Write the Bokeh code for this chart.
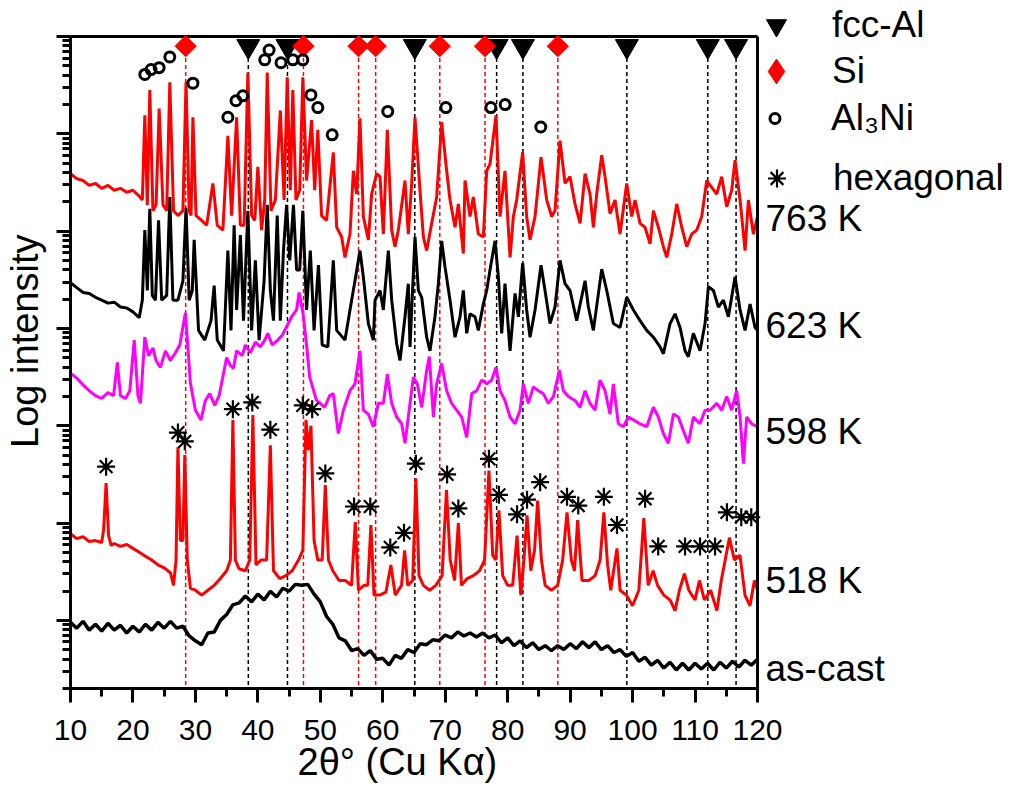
import math
from bokeh.plotting import figure
from bokeh.models import (Range1d, Legend, LegendItem, Label, SingleIntervalTicker,
                          CustomJSTickFormatter, Title)
from bokeh.embed import file_html
from bokeh.resources import INLINE

FONT = "Liberation Sans"

# ---------------- data (2theta in degrees, log10 intensity) ----------------
ascast_tt = list(range(10, 121))
ascast_li = [-0.02, -0.08, -0.01, -0.10, -0.04, -0.11, -0.03, -0.10, -0.05, -0.13,
             -0.06, -0.12, -0.04, -0.10, -0.02, -0.08, -0.01, -0.08, -0.06,
             -0.16, -0.21, -0.25, -0.13, -0.12, 0.00, 0.06, 0.16, 0.18, 0.25, 0.19,
             0.27, 0.21, 0.30, 0.24, 0.33, 0.30, 0.37, 0.36, 0.37, 0.27, 0.19, 0.04,
             -0.04, -0.18, -0.21, -0.31, -0.29, -0.36, -0.31, -0.40, -0.39, -0.46,
             -0.36, -0.39, -0.30, -0.33, -0.24, -0.25, -0.20, -0.21, -0.15, -0.18,
             -0.12, -0.16, -0.13, -0.17, -0.13, -0.18, -0.15, -0.23, -0.18, -0.26,
             -0.21, -0.28, -0.23, -0.30, -0.26, -0.31, -0.26, -0.30, -0.24, -0.29,
             -0.22, -0.28, -0.22, -0.30, -0.26, -0.33, -0.30, -0.37, -0.33, -0.42,
             -0.38, -0.46, -0.41, -0.49, -0.43, -0.51, -0.44, -0.51, -0.44, -0.50,
             -0.44, -0.51, -0.43, -0.49, -0.42, -0.48, -0.41, -0.46, -0.40]

k518_tt = [10, 11, 12, 13, 14, 15, 15.3, 15.7, 16.1, 16.5, 17, 18, 19, 20, 21, 22, 23, 24, 25, 26,
           26.5, 26.9, 27.2, 27.6, 28.0, 28.3, 28.7, 29.2, 30, 31, 32, 33, 34, 35, 35.6, 36.0, 36.4,
           37, 38, 38.7, 39.2, 39.7, 40.5, 41.4, 42.0, 42.5, 43.5, 44.5, 45.5, 46.5, 47.2, 47.7,
           48.1, 48.5, 49, 49.6, 50.3, 50.8, 51.3, 52, 53, 54, 55, 55.6, 56.1, 57, 57.6, 58.1, 58.6,
           59.5, 60.5, 61.3, 62, 63, 63.5, 64, 64.8, 65.3, 65.8, 66.5, 67.5, 68.5, 69.5, 70.2, 70.8,
           71.5, 72.1, 72.6, 73.5, 74.5, 75.5, 76.3, 77.0, 77.6, 78.1, 78.6, 79.2, 80, 80.8, 81.5,
           82.1, 82.6, 83.1, 83.7, 84.3, 84.8, 85.4, 86, 87, 88, 88.8, 89.5, 90.2, 90.7, 91.2, 91.9,
           93, 94, 94.8, 95.4, 96, 96.5, 97.5, 98, 99, 100, 101, 101.8, 102.5, 103.3, 104, 105, 106,
           106.8, 107.5, 108.3, 109, 110, 110.7, 111.5, 112.5, 113.5, 114.2, 115.5, 116.3, 117.2,
           118, 118.8, 119.5, 120]
k518_li = [0.89, 0.84, 0.86, 0.81, 0.82, 0.80, 0.93, 1.41, 0.87, 0.77, 0.79, 0.76, 0.78, 0.74, 0.70,
           0.66, 0.62, 0.57, 0.54, 0.49, 0.36, 0.62, 1.78, 0.82, 0.82, 1.70, 0.62, 0.33, 0.31, 0.26,
           0.31, 0.36, 0.43, 0.51, 0.62, 2.06, 0.62, 0.53, 0.51, 0.62, 2.11, 0.57, 0.62, 0.62, 1.80,
           0.51, 0.43, 0.46, 0.51, 0.62, 0.72, 2.06, 1.75, 2.00, 0.82, 0.62, 0.62, 1.39, 0.62, 0.51,
           0.41, 0.41, 0.36, 1.01, 0.31, 0.36, 0.36, 0.98, 0.26, 0.26, 0.29, 0.57, 0.26, 0.36, 0.72,
           0.36, 0.41, 1.46, 0.46, 0.36, 0.31, 0.36, 0.46, 1.34, 0.62, 0.41, 1.00, 0.36, 0.43, 0.46,
           0.51, 0.62, 1.54, 0.67, 0.62, 1.13, 0.46, 0.36, 0.36, 0.87, 0.26, 0.62, 1.08, 0.51, 0.72,
           1.23, 0.62, 0.36, 0.31, 0.36, 0.62, 1.11, 0.62, 0.51, 1.03, 0.41, 0.41, 0.46, 0.62, 1.11,
           0.57, 0.31, 0.74, 0.31, 0.26, 0.15, 0.31, 1.05, 0.36, 0.51, 0.36, 0.26, 0.21, 0.10, 0.31,
           0.48, 0.31, 0.21, 0.41, 0.21, 0.31, 0.10, 0.41, 0.85, 0.62, 0.67, 0.26, 0.15, 0.41, 0.31]

k598_tt = [10, 11, 12, 13, 14, 15, 16, 16.9, 17.5, 18.0, 18.8, 19.5, 20.2, 20.8, 21.2, 21.9, 22.5,
           23.2, 23.7, 24.4, 25.2, 26.0, 26.8, 27.5, 28.4, 29.2, 30.0, 30.9, 31.6, 32.3, 33.1, 33.8,
           34.6, 35.0, 35.6, 36.1, 36.6, 37.5, 38.0, 38.8, 39.6, 40.4, 41.1, 41.6, 42.3, 43.2, 43.9,
           44.7, 45.5, 46.2, 46.6, 47.2, 47.8, 48.3, 49.4, 50.7, 51.5,
           52.08, 52.88, 53.69, 54.75, 55.55, 56.35, 56.89, 57.69, 58.49, 59.29,
           60.09, 60.73, 61.43, 62.23, 63.03, 63.56, 64.09, 64.90, 65.54, 66.23,
           67.03, 67.46, 68.10, 68.63, 69.43, 70.23, 71.03, 71.83, 72.64, 73.44,
           74.24, 75.04, 75.84, 76.64, 77.44, 78.13, 78.77, 79.57, 80.38, 81.18,
           81.98, 82.51, 83.31, 84.11, 84.91, 85.71, 86.51, 87.32, 88.28, 88.92,
           89.72, 90.78, 91.59, 92.39, 93.19, 93.99, 94.79, 95.59, 96.39, 96.92,
           97.72, 98.52, 99.33, 100.13, 101.19, 102.26, 103.33, 104.13, 104.93, 105.73,
           106.53, 107.33, 108.13, 108.93, 109.73, 110.80, 111.60, 112.40, 113.47, 114.27,
           115.07, 115.87, 116.67, 117.21, 117.74, 118.27, 119.07, 120.0]
k598_li = [2.54, 2.49, 2.42, 2.36, 2.31, 2.28, 2.34, 2.31, 2.65, 2.31, 2.28, 2.36, 2.88, 2.31, 2.23,
           2.91, 2.72, 2.80, 2.67, 2.60, 2.77, 2.67, 2.75, 2.83, 3.16, 2.44, 2.16, 2.06, 2.26, 2.33,
           2.21, 2.31, 2.57, 2.70, 2.62, 2.59, 2.77, 2.72, 2.83, 2.75, 2.86, 2.81, 2.88, 2.95, 2.83,
           2.88, 2.93, 3.03, 3.13, 3.19, 3.37, 3.17, 2.83, 2.50, 2.26, 2.19, 2.31,
           2.33, 1.92, 2.16, 2.36, 2.43, 2.77, 2.16, 2.12, 1.99, 2.23,
           2.23, 2.53, 2.23, 2.09, 2.02, 1.82, 2.09, 2.50, 2.43, 2.19,
           2.57, 2.71, 2.09, 2.43, 2.64, 2.36, 2.23, 2.16, 2.09, 1.88,
           2.33, 2.36, 2.47, 2.43, 2.47, 2.60, 2.36, 2.26, 2.09, 2.02,
           2.16, 2.43, 2.23, 2.40, 2.36, 2.33, 2.23, 2.30, 2.57, 2.36,
           2.30, 2.26, 2.19, 2.36, 2.23, 2.16, 2.47, 2.36, 2.12, 2.43,
           2.02, 1.99, 2.09, 2.06, 2.02, 1.99, 2.19, 2.09, 1.92, 1.82,
           2.12, 2.09, 1.95, 1.82, 2.09, 2.02, 2.16, 2.16, 2.23, 2.16,
           2.30, 2.16, 2.36, 2.09, 1.61, 2.09, 2.02, 1.99]

k623_tt = [10, 11, 12, 13, 14, 15, 16, 17, 18, 19, 20, 21, 21.5, 21.9, 22.3, 22.7, 23.1, 23.6, 24.1,
           24.6, 25.4, 25.9, 26.4, 27.2, 28.0, 28.5, 29.0, 29.5, 29.8, 30.5, 31.5, 32.5, 33.0, 33.5,
           34.5, 35.2, 35.7, 36.2, 36.6, 37.2, 37.7, 38.4, 39.0, 39.6, 40.2, 41.0, 41.5, 42.0, 42.5,
           43.1, 43.6, 44.1, 44.6, 45.1, 45.7, 46.2, 46.7, 47.2, 47.8, 48.4, 49.0, 49.7, 50.3, 51.2,
           52.08, 52.62, 53.95, 54.75, 55.55, 56.35, 56.89, 57.69, 58.49, 58.76,
           59.56, 60.09, 60.89, 61.43, 62.23, 62.76, 63.56, 64.09, 64.36, 65.16,
           65.70, 66.23, 67.03, 67.56, 68.36, 68.90, 69.43, 69.97, 70.77, 71.57,
           72.37, 72.90, 73.44, 73.97, 74.77, 75.30, 76.10, 76.64, 77.17, 77.97,
           78.51, 79.04, 79.57, 80.38, 81.18, 81.71, 82.40, 83.04, 83.58, 84.38,
           85.34, 85.98, 86.78, 87.58, 88.38, 89.18, 89.98, 91.05, 92.39, 92.92,
           93.72, 95.06, 95.86, 96.92, 97.99, 99.06, 100.13, 101.19, 102.26, 103.33,
           104.40, 104.93, 106.00, 106.80, 107.60, 108.40, 108.93, 109.73, 110.80, 111.60,
           112.14, 112.94, 113.74, 114.54, 115.34, 116.41, 117.21, 118.01, 118.81, 119.61,
           120.0]
k623_li = [3.47, 3.42, 3.37, 3.36, 3.32, 3.29, 3.26, 3.27, 3.22, 3.21, 3.17, 3.11,
           3.29, 4.01, 3.39, 4.23, 3.34, 3.29, 4.11, 3.29, 3.34, 4.35,
           3.29, 3.29, 3.49, 4.24, 3.29, 3.39, 3.91, 2.98, 2.88, 3.08,
           3.44, 2.88, 2.77, 3.80, 2.98, 4.06, 3.19, 3.96, 3.08, 4.21,
           2.98, 3.70, 2.88, 3.49, 4.27, 3.39, 3.08, 4.16, 3.08, 3.80,
           4.27, 3.70, 4.27, 3.60, 3.60, 4.21, 3.19, 3.80, 2.98, 3.65,
           2.83, 2.81,
           3.70, 2.98, 2.88, 3.19, 3.49, 3.80, 3.53, 3.05, 2.88, 3.29,
           3.39, 3.19, 3.80, 3.29, 2.84, 2.67, 3.12, 3.46, 2.81, 3.94,
           3.39, 3.32, 2.91, 2.77, 3.12, 3.46, 3.90, 3.63, 3.29, 2.91,
           3.12, 3.39, 2.95, 3.15, 3.12, 2.98, 3.25, 3.39, 3.60, 3.90,
           3.53, 2.95, 3.46, 2.77, 3.36, 3.12, 3.67, 3.19, 2.91, 3.19,
           3.65, 3.39, 3.05, 3.22, 3.70, 3.46, 3.39, 3.08, 3.49, 3.22,
           2.98, 3.61, 3.39, 3.05, 3.01, 3.32, 3.19, 3.08, 2.98, 2.91,
           2.81, 2.74, 3.05, 3.15, 3.01, 2.77, 2.71, 2.95, 2.77, 3.05,
           3.43, 3.39, 3.22, 3.29, 3.12, 3.53, 3.19, 2.98, 3.25, 3.01,
           2.98]

k763_tt = [10, 11, 12, 13, 14, 15, 16, 17, 18, 19, 20, 21, 21.5, 21.9, 22.3, 22.7, 23.2, 23.7, 24.2,
           24.8, 25.4, 25.9, 26.5, 27.2, 28.0, 28.5, 29.0, 29.3, 29.6, 30.1, 31, 31.8, 32.8, 33.5,
           34.4, 35.2, 35.8, 36.6, 37.2, 37.8, 38.4, 39.0, 39.5, 40.0, 40.6, 41.1, 41.5, 42.1, 42.8,
           43.6, 44.2, 44.7, 45.2, 45.6, 46.1, 46.7, 47.2, 47.8, 48.6, 49.1, 49.6, 50.2, 51.0,
           52.08, 52.62, 53.42, 53.95, 54.75, 55.29, 55.82, 56.35, 56.89, 57.69,
           58.22, 59.02, 59.56, 60.09, 60.73, 61.43, 61.96, 62.49, 63.56, 64.09,
           64.63, 65.16, 65.96, 66.50, 67.03, 67.83, 68.63, 69.43, 70.23, 70.77,
           71.57, 72.10, 72.90, 73.17, 73.97, 74.50, 75.30, 76.10, 76.64, 77.17,
           78.13, 78.77, 79.57, 80.38, 80.91, 81.44, 82.40, 83.04, 83.58, 84.38,
           85.34, 86.25, 87.05, 87.58, 88.38, 89.18, 89.98, 90.78, 91.59, 92.39,
           93.19, 93.72, 94.25, 95.06, 95.59, 96.39, 97.19, 97.99, 99.06, 99.86,
           100.39, 101.19, 101.99, 102.80, 103.33, 104.13, 104.93, 105.47, 106.27, 107.07,
           107.87, 108.67, 109.47, 110.27, 111.07, 111.87, 112.67, 113.47, 114.27, 115.07,
           115.87, 116.41, 117.21, 118.01, 118.54, 119.34, 120.0]
k763_li = [4.59, 4.54, 4.52, 4.47, 4.49, 4.44, 4.47, 4.42, 4.44, 4.40, 4.42, 4.36,
           4.32, 5.19, 4.27, 5.45, 4.21, 4.27, 5.26, 4.27, 4.21, 5.53,
           4.21, 4.16, 4.21, 5.53, 4.21, 4.16, 5.17, 4.16, 4.11, 4.06,
           4.49, 4.06, 4.01, 4.98, 4.16, 5.17, 4.06, 4.06, 5.63, 4.16,
           4.11, 4.66, 4.01, 4.32, 5.63, 4.21, 4.32, 5.24, 4.32, 5.58,
           4.42, 5.45, 4.32, 4.42, 5.58, 4.52, 5.14, 4.42, 5.04, 4.16, 4.11,
           4.81, 4.04, 3.94, 3.73, 3.97, 4.62, 4.38, 5.16, 4.15, 3.91,
           4.38, 4.59, 4.56, 3.97, 5.04, 4.01, 3.84, 4.01, 4.52, 3.97,
           4.49, 5.17, 4.42, 3.94, 3.80, 4.08, 4.35, 5.12, 4.62, 4.32,
           4.04, 4.28, 3.77, 4.52, 4.15, 4.35, 3.97, 3.94, 4.62, 4.69,
           5.19, 4.15, 4.62, 3.73, 4.15, 4.32, 4.81, 4.15, 3.91, 4.15,
           4.76, 4.32, 4.15, 4.21, 4.93, 4.49, 4.56, 4.28, 4.08, 4.59,
           4.38, 4.04, 4.38, 4.78, 4.56, 4.18, 4.32, 3.97, 4.49, 4.15,
           4.32, 4.08, 4.04, 3.87, 4.21, 4.04, 3.84, 3.73, 3.97, 4.28,
           4.04, 3.84, 3.97, 4.01, 4.15, 4.52, 4.45, 4.38, 4.56, 4.25,
           4.42, 4.73, 4.32, 3.80, 4.32, 3.97, 4.15]

al_tt = [38.47, 44.74, 65.13, 78.23, 82.44, 99.08, 112.04, 116.57]
si_tt = [28.44, 47.30, 56.12, 58.86, 69.13, 76.38, 88.03]
marker_li = 5.9
line_top_li = 5.78

al3ni_tt = [21.9, 22.9, 24.2, 25.9, 29.6, 35.2, 36.5, 37.6, 41.1, 41.8, 43.7, 45.6, 47.2, 48.5,
            49.6, 51.9, 60.8, 70.1, 77.3, 79.6, 85.3]
al3ni_li = [5.61, 5.66, 5.68, 5.79, 5.52, 5.17, 5.34, 5.39, 5.76, 5.86, 5.73, 5.76, 5.76, 5.40,
            5.27, 4.99, 5.23, 5.27, 5.27, 5.30, 5.07]

hex_tt = [15.7, 27.2, 28.3, 36.0, 39.1, 42.0, 47.2, 48.7, 50.8, 55.4, 58.0, 61.2, 63.4, 65.3, 70.3,
          72.1, 77.0, 78.6, 81.5, 83.1, 85.2, 89.5, 91.3, 95.4, 97.5, 102.0, 104.1, 108.4, 110.8,
          113.2, 115.1, 117.4, 119.0]
hex_li = [1.58, 1.93, 1.84, 2.17, 2.24, 1.96, 2.21, 2.17, 1.51, 1.17, 1.17, 0.75, 0.90, 1.61, 1.50,
          1.15, 1.66, 1.29, 1.09, 1.24, 1.42, 1.27, 1.18, 1.27, 0.98, 1.25, 0.76, 0.76, 0.76, 0.76,
          1.11, 1.06, 1.06]

sample_names = ["763 K", "623 K", "598 K", "518 K", "as-cast"]
sample_label_li = [4.13, 3.03, 1.94, 0.41, -0.49]

X_MIN, X_MAX = 10, 120
Y_MIN_LI, Y_MAX_LI = -0.7, 6.0

# ---------------- layout ----------------
W, H = 1016, 787
AX_L, AX_T, AX_R, AX_B = 70, 36, 757, 688          # axes box in canvas pixels
FR_T = 4                                           # frame reaches up to here (room for the key)
PX_PER_DEG = (AX_R - AX_L) / (X_MAX - X_MIN)
PX_PER_DEC = (AX_B - AX_T) / (Y_MAX_LI - Y_MIN_LI)
x_hi = X_MIN + (W - AX_L) / PX_PER_DEG
li_hi = Y_MAX_LI + (AX_T - FR_T) / PX_PER_DEC


def I(li):
    return [10 ** v for v in li]


p = figure(frame_width=W - AX_L, frame_height=AX_B - FR_T, min_border_left=AX_L,
           min_border_right=0, min_border_top=FR_T, min_border_bottom=H - AX_B,
           y_axis_type="log", x_range=Range1d(X_MIN, x_hi),
           y_range=Range1d(10 ** Y_MIN_LI, 10 ** li_hi),
           output_backend="svg", toolbar_location=None)
p.grid.visible = False
p.outline_line_color = None
p.background_fill_color = "white"
p.border_fill_color = "white"

# reference lines
n_al, n_si = len(al_tt), len(si_tt)
p.segment(x0=si_tt, x1=si_tt, y0=[10 ** line_top_li] * n_si, y1=[10 ** Y_MIN_LI] * n_si,
          line_color="#ff0000", line_width=1.5, line_dash="4 3")
p.segment(x0=al_tt, x1=al_tt, y0=[10 ** line_top_li] * n_al, y1=[10 ** Y_MIN_LI] * n_al,
          line_color="black", line_width=1.5, line_dash="4 3")

# curves
LW = 3
p.line(ascast_tt, I(ascast_li), line_color="black", line_width=3.5)
p.line(k518_tt, I(k518_li), line_color="#ff0000", line_width=LW)
p.line(k598_tt, I(k598_li), line_color="#ff00ff", line_width=LW)
p.line(k623_tt, I(k623_li), line_color="black", line_width=LW)
p.line(k763_tt, I(k763_li), line_color="#ff0000", line_width=LW)

# top and right sides of the axes box
p.segment(x0=[X_MIN, X_MAX], x1=[X_MAX, X_MAX], y0=[10 ** Y_MAX_LI, 10 ** Y_MIN_LI],
          y1=[10 ** Y_MAX_LI, 10 ** Y_MAX_LI], line_color="black", line_width=3)

# phase markers
AL_STYLE = dict(marker="inverted_triangle", fill_color="black", line_color="black")
SI_STYLE = dict(marker="square", angle=math.pi / 4, fill_color="#ff0000", line_color="#ff0000")
NI_STYLE = dict(marker="circle", fill_color=None, line_color="black", line_width=3)
HEX_STYLE = dict(marker="asterisk", line_color="black", line_width=2.2)

r_al = p.scatter(al_tt, [10 ** marker_li] * n_al, size=23, **AL_STYLE)
r_si = p.scatter(si_tt, [10 ** marker_li] * n_si, size=15, **SI_STYLE)
# same Si positions drawn as a diamond inside the rotated squares: the key shows this glyph
k_si = p.scatter(si_tt, [10 ** marker_li] * n_si, size=19, marker="diamond",
                 fill_color="#ff0000", line_color="#ff0000")
r_ni = p.scatter(al3ni_tt, I(al3ni_li), size=10, **NI_STYLE)
r_hex = p.scatter(hex_tt, I(hex_li), size=18, **HEX_STYLE)

# axes
for ax in (p.xaxis[0], p.yaxis[0]):
    ax.axis_line_width = 3
    ax.major_tick_line_width = 3
    ax.minor_tick_line_width = 3
    ax.major_tick_in = 0
    ax.major_tick_out = 14
    ax.minor_tick_in = 0
    ax.minor_tick_out = 8
    ax.axis_label_text_font = FONT
    ax.axis_label_text_font_size = "38px"
    ax.axis_label_text_font_style = "normal"
    ax.axis_label_text_color = "black"
    ax.major_label_text_font = FONT
    ax.major_label_text_font_size = "30px"
    ax.major_label_text_color = "black"

p.xaxis.bounds = (X_MIN, X_MAX)
p.xaxis.ticker = SingleIntervalTicker(interval=10, num_minor_ticks=2)
p.xaxis.major_label_standoff = 17

p.yaxis.bounds = (10 ** Y_MIN_LI, 10 ** Y_MAX_LI)
p.yaxis.axis_label = "\u00a0Log intensity"
p.yaxis.formatter = CustomJSTickFormatter(code="return ''")
p.yaxis.major_label_standoff = 0
p.yaxis.axis_label_standoff = 11

p.add_layout(Title(text="2θ° (Cu Kα)", align="left", offset=227, standoff=-8,
                   text_font=FONT, text_font_size="38px", text_font_style="normal",
                   text_color="black"), "below")

# key (one legend per entry so each symbol keeps its own size)


def add_key(renderer, label, size, cx, cy, gh=50):
    w = int(round(size / 0.4))
    leg = Legend(items=[LegendItem(label=label, renderers=[renderer])],
                 location=(int(round(cx - w / 2 - AX_L)), int(round(AX_B - (cy + gh / 2)))),
                 glyph_width=w, glyph_height=gh, label_standoff=int(round(832 - (cx + w / 2))),
                 padding=0, margin=0, spacing=0, border_line_color=None,
                 background_fill_alpha=0, label_text_font=FONT, label_text_color="black",
                 label_text_font_size="37px", label_height=gh)
    p.add_layout(leg)


add_key(r_al, "fcc-Al", 20, 776, 25)
add_key(k_si, "Si", 25, 776, 71, gh=64)
add_key(r_ni, "Al₃Ni", 10, 775, 118)
add_key(r_hex, "hexagonal", 18, 776, 178)

label_x = X_MIN + (765 - AX_L) / PX_PER_DEG
for name, li in zip(sample_names, sample_label_li):
    p.add_layout(Label(x=label_x, y=10 ** li, text=name, text_baseline="middle",
                       text_font=FONT, text_font_size="37px", text_color="black"))

open("out.html", "w").write(file_html(p, INLINE))
